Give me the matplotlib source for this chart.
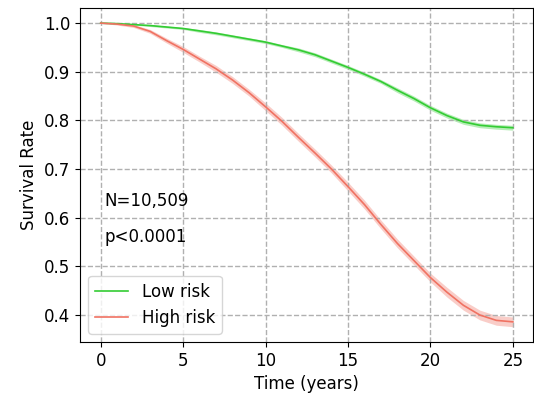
import numpy as np
import matplotlib
matplotlib.use("Agg")
import matplotlib.pyplot as plt

# valores (cada año)
years = list(range(26))
low_risk = [1.000, 0.999, 0.997, 0.995, 0.992, 0.989, 0.984, 0.979, 0.973, 0.967,
            0.961, 0.953, 0.945, 0.935, 0.922, 0.909, 0.895, 0.880, 0.862, 0.845,
            0.826, 0.810, 0.797, 0.790, 0.787, 0.785]
high_risk = [1.000, 0.998, 0.994, 0.983, 0.964, 0.946, 0.926, 0.906, 0.883, 0.857,
             0.828, 0.798, 0.765, 0.733, 0.700, 0.664, 0.627, 0.586, 0.547, 0.512,
             0.477, 0.447, 0.420, 0.400, 0.389, 0.386]
# semi-ancho de la banda de confianza
low_ci = [0.000, 0.001, 0.001, 0.002, 0.002, 0.002, 0.003, 0.003, 0.003, 0.003,
          0.003, 0.003, 0.004, 0.004, 0.004, 0.004, 0.004, 0.004, 0.005, 0.005,
          0.005, 0.005, 0.005, 0.005, 0.005, 0.005]
high_ci = [0.000, 0.002, 0.003, 0.004, 0.005, 0.006, 0.006, 0.007, 0.007, 0.007,
           0.008, 0.008, 0.008, 0.008, 0.008, 0.009, 0.009, 0.009, 0.009, 0.009,
           0.009, 0.010, 0.010, 0.010, 0.010, 0.010]

t = np.array(years)
fig = plt.figure(figsize=(5.34, 3.98), dpi=100)
ax = fig.add_axes([0.150, 0.141, 0.849, 0.839])

for vals, ci, color, label in [(low_risk, low_ci, "#33cc33", "Low risk"),
                               (high_risk, high_ci, "#f07262", "High risk")]:
    v = np.array(vals)
    c = np.array(ci)
    ax.fill_between(t, v - c, v + c, color=color, alpha=0.35, linewidth=0)
    ax.plot(t, v, color=color, linewidth=1.2, label=label)

ax.text(0.2, 0.634, "N=10,509", fontsize=12, va="center")
ax.text(0.2, 0.560, "p<0.0001", fontsize=12, va="center")

ax.set_xticks([0, 5, 10, 15, 20, 25])
ax.set_yticks([0.4, 0.5, 0.6, 0.7, 0.8, 0.9, 1.0])
ax.tick_params(labelsize=12)
ax.set_xlabel("Time (years)", fontsize=12)
ax.set_ylabel("Survival Rate", fontsize=12)
ax.grid(True, linestyle="--", color="#b0b0b0", linewidth=1)
ax.legend(loc="lower left", fontsize=12)

plt.savefig("out.png", dpi=100)
